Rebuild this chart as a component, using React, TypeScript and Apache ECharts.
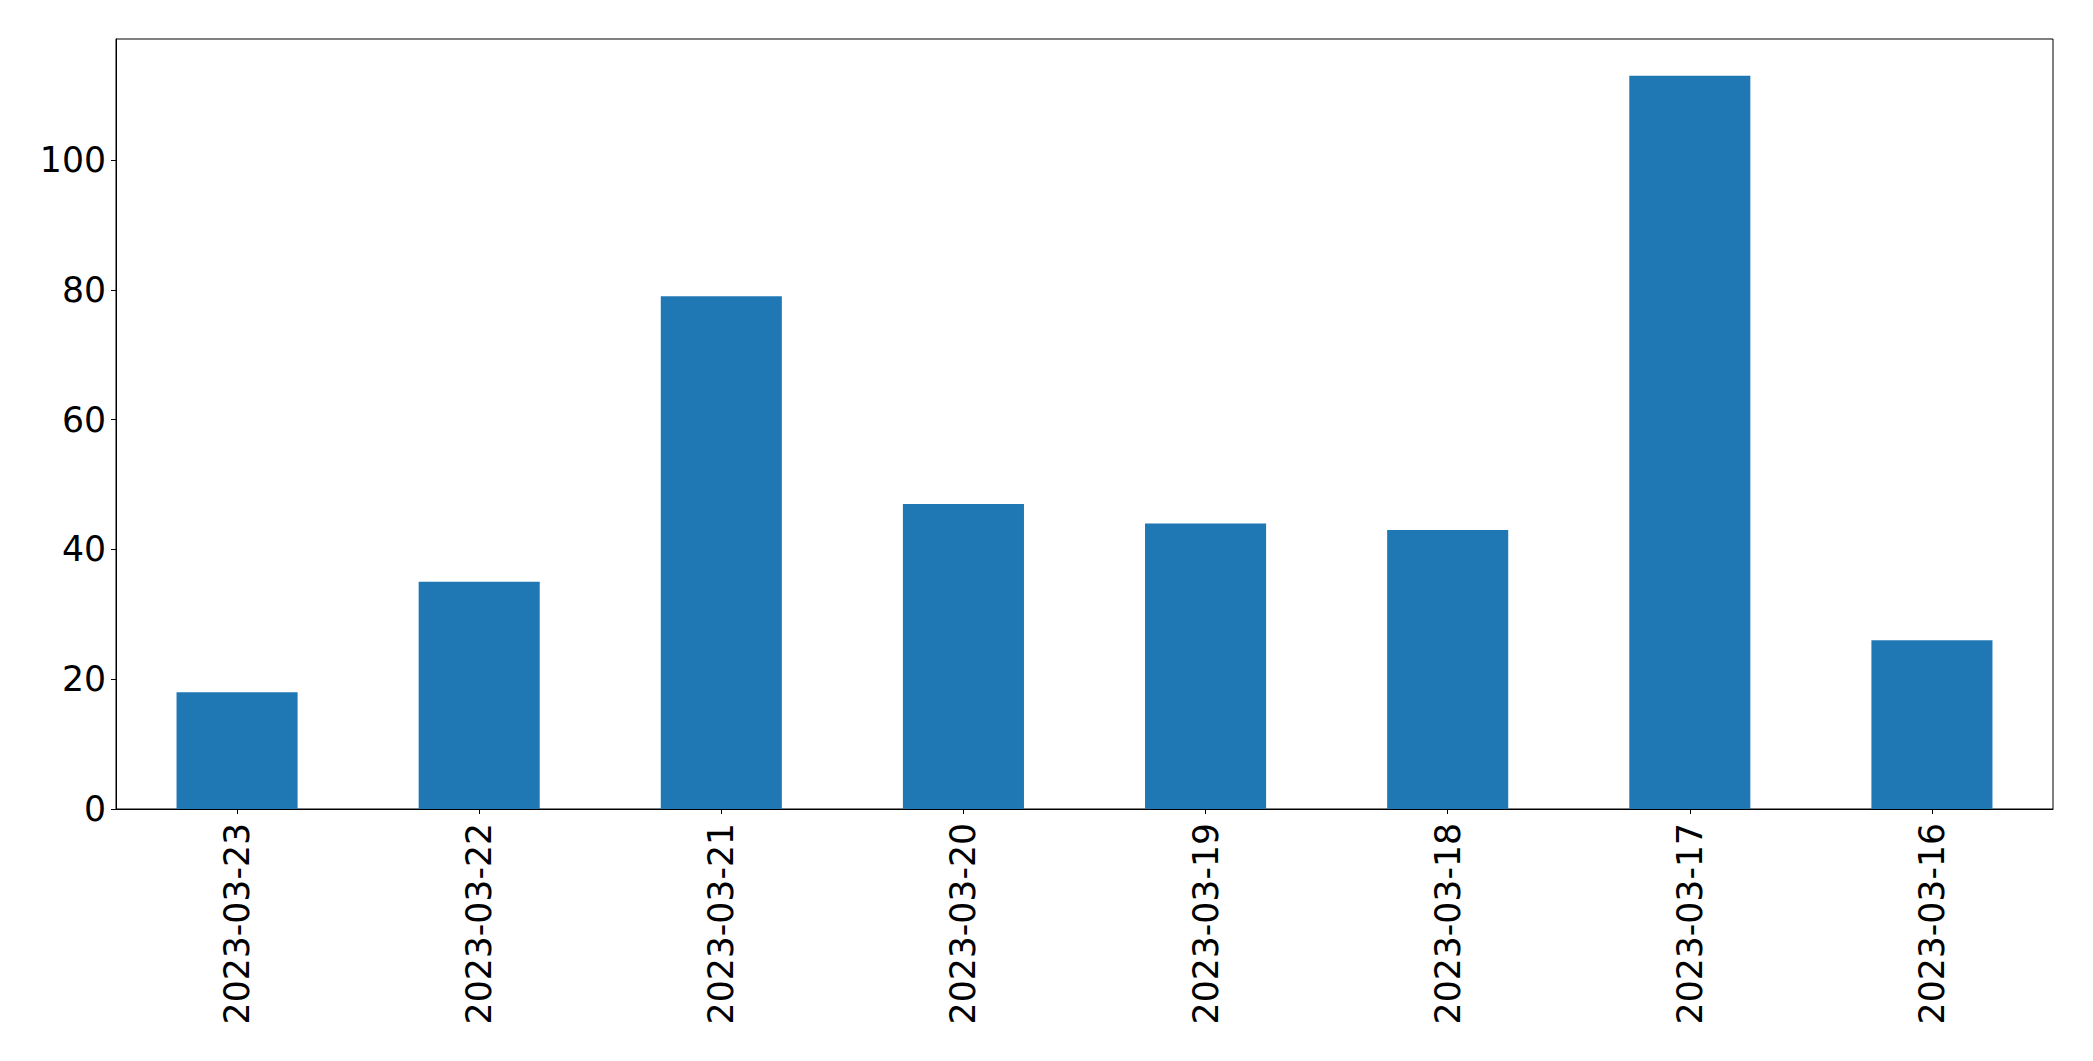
import React, { useEffect, useRef } from "react";
import * as echarts from "echarts";

const categories = [
  "2023-03-23",
  "2023-03-22",
  "2023-03-21",
  "2023-03-20",
  "2023-03-19",
  "2023-03-18",
  "2023-03-17",
  "2023-03-16",
];
const values = [18, 35, 79, 47, 44, 43, 113, 26];
const yTicks = [0, 20, 40, 60, 80, 100];

export default function App() {
  const ref = useRef<HTMLDivElement>(null);
  useEffect(() => {
    if (!ref.current) return;
    const chart = echarts.init(ref.current, null, { renderer: "svg" });
    const font = "DejaVu Sans";
    const yMax = Math.max(...values) * 1.05;
    chart.setOption({
      animation: false,
      backgroundColor: "#ffffff",
      grid: {
        left: 116,
        top: 39,
        right: 40,
        bottom: 252,
        show: true,
        borderColor: "#000000",
        borderWidth: 1,
        backgroundColor: "transparent",
      },
      xAxis: {
        type: "category",
        data: categories,
        axisLine: { show: true, lineStyle: { color: "#000000", width: 1 } },
        axisTick: { show: true, alignWithLabel: true, length: 5, lineStyle: { color: "#000000", width: 1 } },
        axisLabel: {
          rotate: 90,
          fontSize: 34.67,
          fontFamily: font,
          color: "#000000",
          margin: 14,
          interval: 0,
        },
        splitLine: { show: false },
      },
      yAxis: {
        type: "value",
        min: 0,
        max: yMax,
        interval: 20,
        axisLine: { show: true, lineStyle: { color: "#000000", width: 1 } },
        axisTick: { show: true, length: 5, customValues: yTicks, lineStyle: { color: "#000000", width: 1 } },
        axisLabel: {
          fontSize: 34.67,
          fontFamily: font,
          color: "#000000",
          margin: 10,
          customValues: yTicks,
        },
        splitLine: { show: false },
      },
      series: [
        {
          type: "bar",
          data: values,
          barWidth: "50%",
          itemStyle: { color: "#1f77b4" },
        },
      ],
    });
    return () => chart.dispose();
  }, []);
  return (
    <div
      ref={ref}
      style={{ position: "fixed", left: 0, top: 0, width: 2093, height: 1061, background: "#fff" }}
    />
  );
}
